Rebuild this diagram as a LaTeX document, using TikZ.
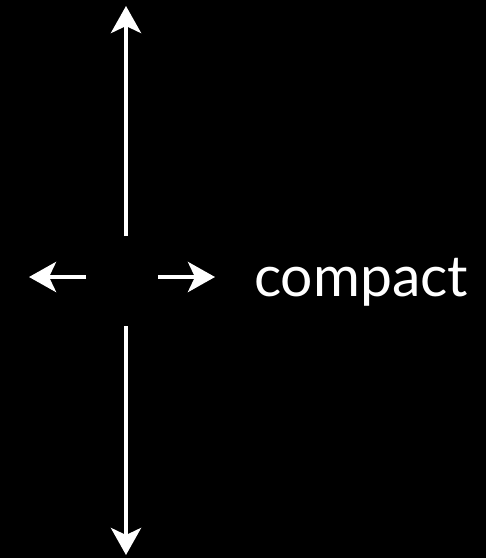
\documentclass[tikz,border=0pt]{standalone}
\usepackage{fontspec}
\setmainfont{Lato}
\usetikzlibrary{arrows.meta}
\begin{document}
\begin{tikzpicture}[x=1pt,y=-1pt,
  arr/.style={white, line width=4.5pt, -{Stealth[length=27pt,width=30pt,inset=7pt]}},
  lbl/.style={text=white, font=\fontsize{57}{68}\selectfont, inner sep=0pt, anchor=base west}]
\fill[black] (0,0) rectangle (486,558);
\useasboundingbox (0,0) rectangle (486,558);
\coordinate (uS) at (126,236);
\coordinate (uE) at (126,6);
\coordinate (dS) at (126,326);
\coordinate (dE) at (126,555);
\coordinate (lS) at (86,277);
\coordinate (lE) at (29,277);
\coordinate (rS) at (158,277);
\coordinate (rE) at (215,277);
\draw[arr] (uS) -- (uE);
\draw[arr] (dS) -- (dE);
\draw[arr] (lS) -- (lE);
\draw[arr] (rS) -- (rE);
\node[lbl] (t) at (254,296) {compact};
\end{tikzpicture}
\end{document}
